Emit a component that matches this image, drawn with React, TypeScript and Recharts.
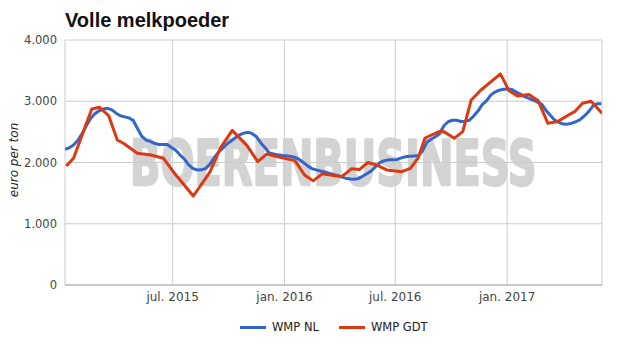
import { CartesianGrid, Line, LineChart, XAxis, YAxis } from "recharts"

// WMP NL: weekly quotation, starting 5 jan 2015
const nlStart = "2015-01-05"
const nlValues = [
  2215, 2240, 2285, 2360, 2470, 2600, 2718, 2795, 2845, 2872,
  2885, 2860, 2805, 2763, 2745, 2728, 2690, 2560, 2430, 2368,
  2344, 2314, 2294, 2292, 2295, 2245, 2200, 2125, 2060, 1965,
  1905, 1878, 1880, 1900, 1970, 2070, 2165, 2230, 2300, 2352,
  2405, 2450, 2480, 2495, 2470, 2420, 2320, 2240, 2155, 2140,
  2125, 2115, 2110, 2100, 2085, 2050, 2000, 1945, 1900, 1880,
  1862, 1845, 1824, 1805, 1790, 1765, 1742, 1732, 1728, 1740,
  1780, 1820, 1865, 1935, 2000, 2030, 2043, 2045, 2050, 2076,
  2093, 2102, 2108, 2115, 2190, 2330, 2380, 2420, 2470, 2600,
  2665, 2690, 2690, 2670, 2675, 2690, 2760, 2840, 2945, 3005,
  3100, 3150, 3180, 3195, 3200, 3192, 3150, 3115, 3075, 3045,
  3018, 2985, 2950, 2850, 2770, 2695, 2655, 2628, 2626, 2642,
  2665, 2700, 2760, 2830, 2920, 2958, 2960,
]

// WMP GDT: auction results
const gdtDates = [
  "2015-01-07", "2015-01-19", "2015-02-18", "2015-03-03", "2015-03-18",
  "2015-04-01", "2015-04-11", "2015-05-04", "2015-05-26", "2015-06-16",
  "2015-07-02", "2015-08-04", "2015-08-31", "2015-09-18", "2015-10-07",
  "2015-10-31", "2015-11-18", "2015-12-03", "2015-12-21", "2016-01-18",
  "2016-02-03", "2016-02-17", "2016-03-03", "2016-04-04", "2016-04-20",
  "2016-05-03", "2016-05-17", "2016-05-31", "2016-06-17", "2016-07-12",
  "2016-07-26", "2016-08-08", "2016-08-19", "2016-09-11", "2016-09-19",
  "2016-10-06", "2016-10-20", "2016-11-03", "2016-11-19", "2016-12-21",
  "2017-01-04", "2017-01-18", "2017-02-06", "2017-02-21", "2017-03-09",
  "2017-03-25", "2017-04-09", "2017-04-22", "2017-05-05", "2017-05-19",
  "2017-06-06",
]
const gdtValues = [
  1943, 2069, 2874, 2902, 2760, 2368, 2314, 2150, 2123, 2069,
  1850, 1453, 1840, 2245, 2525, 2280, 2014, 2140, 2095, 2030,
  1796, 1700, 1815, 1769, 1897, 1885, 2000, 1960, 1878, 1850,
  1905, 2080, 2400, 2504, 2504, 2395, 2504, 3021, 3184, 3446,
  3173, 3086, 3110, 3010, 2640, 2667, 2760, 2830, 2967, 3000,
  2804,
]

const xTicks = ["2015-07-01", "2016-01-01", "2016-07-01", "2017-01-01"]
const yTicks = [0, 1000, 2000, 3000, 4000]
const monthNames = ["jan.", "feb.", "mrt.", "apr.", "mei", "jun.", "jul.", "aug.", "sep.", "okt.", "nov.", "dec."]

const DAY = 86400000
const nlData = nlValues.map((v, i) => ({ t: Date.parse(nlStart) + i * 7 * DAY, v }))
const gdtData = gdtDates.map((d, i) => ({ t: Date.parse(d), v: gdtValues[i] }))

const FONT = "'DejaVu Sans', sans-serif"

const fmtMonth = (t: number) => {
  const d = new Date(t)
  return `${monthNames[d.getUTCMonth()]} ${d.getUTCFullYear()}`
}
const fmtNum = (v: number) => v.toLocaleString("nl-NL")

export default function App() {
  return (
    <div style={{ position: "absolute", left: 0, top: 0, width: 625, height: 355, background: "#fff", fontFamily: FONT }}>
      {/* watermark behind the chart */}
      <svg width={625} height={355} style={{ position: "absolute", left: 0, top: 0 }}>
        <text transform="translate(130,185) scale(1,1.55)" x={0} y={0} fontSize={40} fontWeight="bold"
          fill="#d3d3d3" stroke="#d3d3d3" strokeWidth={1.5} strokeLinejoin="round" fontFamily={FONT}>BOERENBUSINESS</text>
      </svg>
      <div style={{ position: "absolute", left: 0, top: 0 }}>
        <LineChart width={625} height={355} margin={{ top: 40, right: 23, bottom: 40, left: 10 }}>
          <CartesianGrid stroke="#ccc" />
          <XAxis
            dataKey="t"
            type="number"
            domain={[Date.parse(nlStart), Date.parse("2017-06-06")]}
            ticks={xTicks.map((d) => Date.parse(d))}
            tickFormatter={fmtMonth}
            tick={{ fontSize: 12, fill: "#444", fontFamily: FONT }}
            tickLine={false}
            tickSize={5}
            axisLine={{ stroke: "#aaa" }}
            height={30}
            allowDataOverflow
          />
          <YAxis
            domain={[0, 4000]}
            ticks={yTicks}
            tickFormatter={fmtNum}
            tick={{ fontSize: 11.5, fill: "#444", fontFamily: FONT }}
            tickLine={false}
            axisLine={false}
            tickSize={6}
            width={55}
          />
          <Line data={nlData} dataKey="v" name="WMP NL" type="linear" stroke="#3366cc" strokeWidth={3}
            dot={false} isAnimationActive={false} strokeLinejoin="round" />
          <Line data={gdtData} dataKey="v" name="WMP GDT" type="linear" stroke="#dc3912" strokeWidth={3}
            dot={false} isAnimationActive={false} strokeLinejoin="round" />
        </LineChart>
      </div>
      <div style={{ position: "absolute", left: 65, top: 8, fontFamily: "'Liberation Sans', Arial, sans-serif", fontWeight: "bold", fontSize: 20, color: "#111", lineHeight: "24px" }}>
        Volle melkpoeder
      </div>
      <div style={{ position: "absolute", left: 14, top: 160, transform: "translate(-50%, -50%) rotate(-90deg)", fontSize: 12, fontStyle: "italic", color: "#222", whiteSpace: "nowrap" }}>
        euro per ton
      </div>
      <div style={{ position: "absolute", left: 240, top: 320, display: "flex", alignItems: "center", fontSize: 11.5, color: "#222" }}>
        <span style={{ width: 26, height: 3, background: "#3366cc", marginRight: 6 }} />
        <span style={{ marginRight: 20 }}>WMP NL</span>
        <span style={{ width: 26, height: 3, background: "#dc3912", marginRight: 6 }} />
        <span>WMP GDT</span>
      </div>
    </div>
  )
}
